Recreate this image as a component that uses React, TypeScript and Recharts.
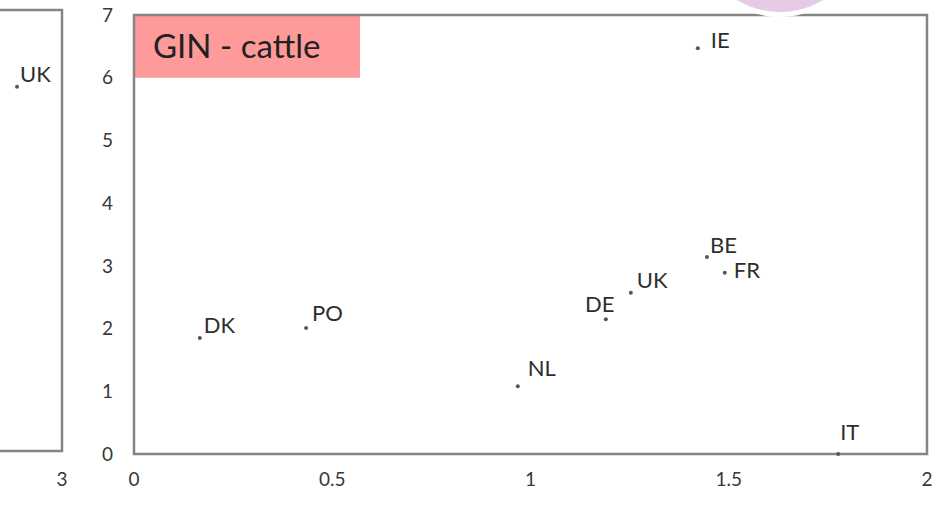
import React from 'react';
import { ScatterChart, Scatter, XAxis, YAxis, ReferenceArea, Label } from 'recharts';

// main panel: GIN - cattle
const countries = ['DK', 'PO', 'NL', 'DE', 'UK', 'BE', 'FR', 'IE', 'IT'];
const xValues = [0.166, 0.434, 0.968, 1.19, 1.253, 1.445, 1.49, 1.422, 1.776];
const yValues = [1.85, 2.01, 1.08, 2.15, 2.57, 3.14, 2.89, 6.47, 0];
const xTicks = [0, 0.5, 1, 1.5, 2];
const yTicks = [0, 1, 2, 3, 4, 5, 6, 7];
const panelTitle = 'GIN - cattle';

// neighbouring panel, only its right edge is visible
const leftCountries = ['UK'];
const leftX = [2.55];
const leftY = [5.78];
const leftTicks = [3];

const points = countries.map((name, i) => ({ name, x: xValues[i], y: yValues[i] }));
const leftPoints = leftCountries.map((name, i) => ({ name, x: leftX[i], y: leftY[i] }));

// where each label sits relative to its dot
const labelPlace: Record<string, { dx: number; dy: number; anchor?: 'start' | 'middle' }> = {
    DK: { dx: 4, dy: -5 },
    PO: { dx: 6, dy: -7 },
    NL: { dx: 10, dy: -10 },
    DE: { dx: -6, dy: -7, anchor: 'middle' },
    UK: { dx: 6, dy: -5 },
    BE: { dx: 3, dy: -4 },
    FR: { dx: 9, dy: 5 },
    IE: { dx: 13, dy: 0 },
    IT: { dx: 2, dy: -14 },
};

const font = 'Lato, "Open Sans", sans-serif';
const border = '#858585';

const Dot = (props: any) => {
    const { cx, cy, payload } = props;
    const p = labelPlace[payload.name] || { dx: 3, dy: -5 };
    return (
        <g>
            <circle cx={cx} cy={cy} r={2} fill="#555" />
            <text
                x={cx + p.dx}
                y={cy + p.dy}
                textAnchor={p.anchor || 'start'}
                fontSize={22}
                fontFamily={font}
                fill="#2e2e2e"
            >
                {payload.name}
            </text>
        </g>
    );
};

const LeftDot = (props: any) => {
    const { cx, cy, payload } = props;
    return (
        <g>
            <circle cx={cx} cy={cy} r={2} fill="#555" />
            <text x={cx + 3} y={cy - 5} fontSize={22} fontFamily={font} fill="#2e2e2e">
                {payload.name}
            </text>
        </g>
    );
};

const tickStyle = { fontSize: 19, fontFamily: font, fill: '#383838' };

const App: React.FC = () => {
    return (
        <div style={{ position: 'absolute', left: 0, top: 0, width: 948, height: 505, background: '#fff', overflow: 'hidden' }}>
            <div style={{ position: 'absolute', left: 0, top: 0 }}>
                <ScatterChart width={948} height={505} margin={{ top: 15, right: 21, bottom: 11, left: 74 }}>
                    <XAxis
                        type="number"
                        dataKey="x"
                        domain={[0, 2]}
                        ticks={xTicks}
                        interval={0}
                        axisLine={false}
                        tickLine={false}
                        tickSize={0}
                        tickMargin={19}
                        height={40}
                        tick={tickStyle}
                    />
                    <YAxis
                        type="number"
                        dataKey="y"
                        domain={[0, 7]}
                        ticks={yTicks}
                        interval={0}
                        axisLine={false}
                        tickLine={false}
                        tickSize={0}
                        tickMargin={21}
                        width={60}
                        tick={tickStyle}
                    />
                    <ReferenceArea x1={0} x2={0.57} y1={6} y2={7} fill="#ff9a9a" fillOpacity={1} stroke="none">
                        <Label
                            value={panelTitle}
                            position="insideLeft"
                            offset={19}
                            style={{ fontSize: 33, fontFamily: font, fill: '#222' }}
                        />
                    </ReferenceArea>
                    <ReferenceArea x1={0} x2={2} y1={0} y2={7} fill="none" stroke={border} strokeWidth={2.5} />
                    <Scatter data={points} shape={Dot} isAnimationActive={false} />
                </ScatterChart>
            </div>
            <div style={{ position: 'absolute', left: 0, top: 0, width: 85, height: 505, overflow: 'hidden' }}>
                <div style={{ position: 'absolute', left: -238, top: 0 }}>
                    <ScatterChart width={320} height={505} margin={{ top: 10, right: 20, bottom: 14, left: 0 }}>
                        <XAxis
                            type="number"
                            dataKey="x"
                            domain={[0, 3]}
                            ticks={leftTicks}
                            interval={0}
                            axisLine={false}
                            tickLine={false}
                            tickSize={0}
                            tickMargin={22}
                            height={40}
                            tick={tickStyle}
                        />
                        <YAxis type="number" dataKey="y" domain={[0, 7]} hide />
                        <ReferenceArea x1={0} x2={3} y1={0} y2={7} fill="none" stroke={border} strokeWidth={2.5} />
                        <Scatter data={leftPoints} shape={LeftDot} isAnimationActive={false} />
                    </ScatterChart>
                </div>
            </div>
            <div
                style={{
                    position: 'absolute',
                    left: 692,
                    top: -159,
                    width: 166,
                    height: 166,
                    borderRadius: '50%',
                    background: '#e6cbe7',
                    border: '5px solid #fff',
                }}
            />
        </div>
    );
};

export default App;
